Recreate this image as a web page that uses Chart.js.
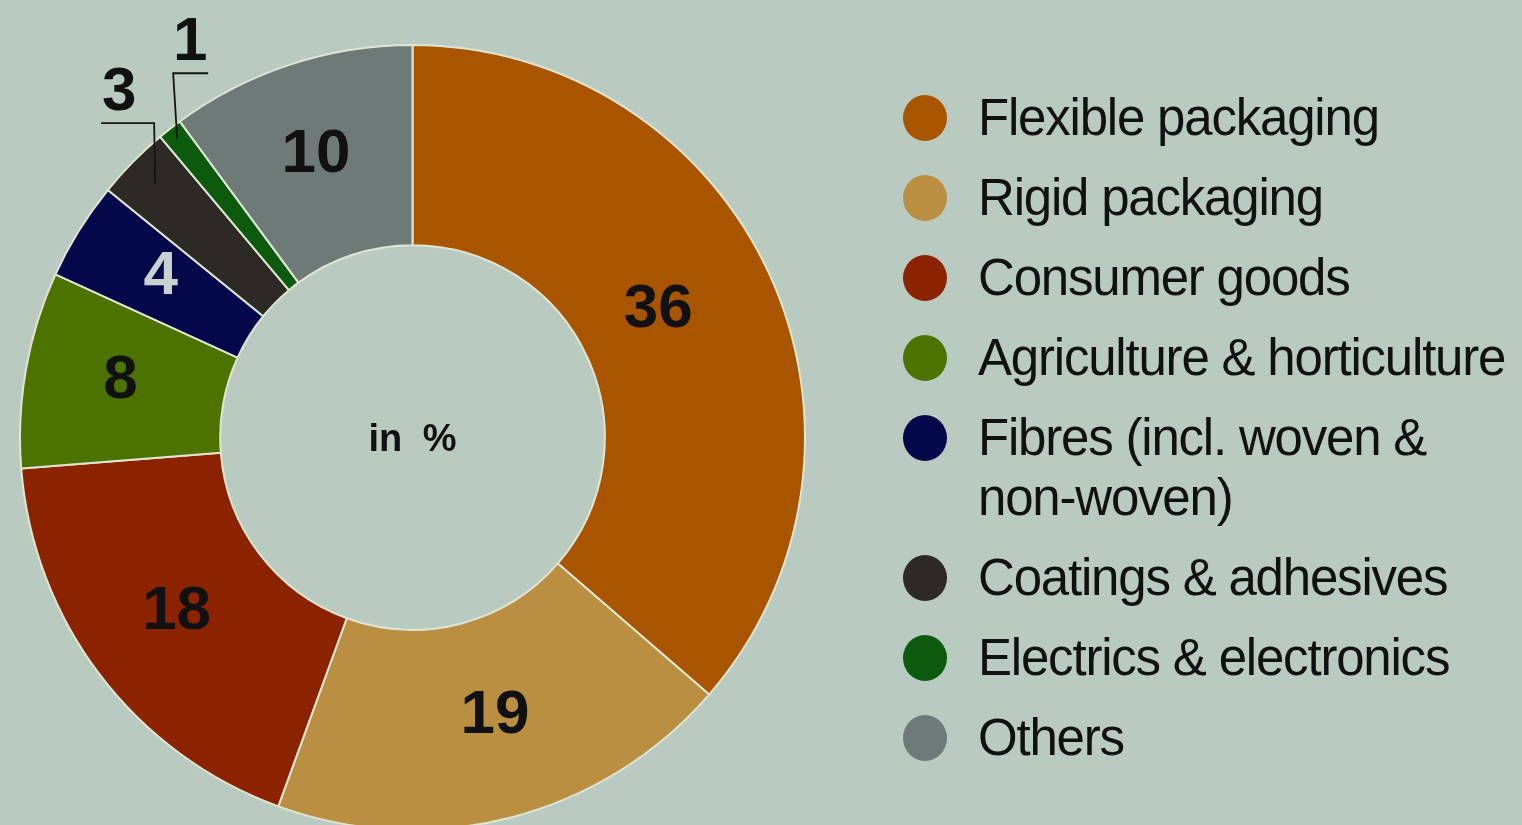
<!DOCTYPE html>
<html>
<head>
<meta charset="utf-8">
<title>Plastics demand by segment</title>
<script src="https://cdn.jsdelivr.net/npm/chart.js@4/dist/chart.umd.min.js"></script>
<style>
    html, body {
        margin: 0;
        padding: 0;
        width: 1522px;
        height: 825px;
        overflow: hidden;
        background: #b9cbc0;
        font-family: "Liberation Sans", Arial, sans-serif;
    }
    #chart-box {
        position: absolute;
        left: 19px;
        top: 0;
        width: 787px;
        height: 831px;
    }
    #legend {
        position: absolute;
        left: 903px;
        top: 88px;
        margin: 0;
        padding: 0;
        list-style: none;
    }
    #legend li {
        position: relative;
        padding-left: 75px;
        font-size: 51px;
        letter-spacing: -1.2px;
        line-height: 60px;
        margin-bottom: 20px;
        color: #111;
        white-space: nowrap;
    }
    #legend .dot {
        position: absolute;
        left: 0;
        top: 7px;
        width: 44px;
        height: 46px;
        border-radius: 50%;
    }
</style>
</head>
<body>
<div id="chart-box"><canvas id="donut-chart" width="787" height="831"></canvas></div>
<ul id="legend"></ul>

<script>
// data
var segments = [
    'Flexible packaging',
    'Rigid packaging',
    'Consumer goods',
    'Agriculture & horticulture',
    ['Fibres (incl. woven &', 'non-woven)'],
    'Coatings & adhesives',
    'Electrics & electronics',
    'Others'
];
var shares = [36, 19, 18, 8, 4, 3, 1, 10];
var centreText = 'in %';

// colours
var sliceColours = ['#a95500', '#bb8f42', '#8b2300', '#4c7200', '#03084a', '#2d2925', '#0b5a0d', '#6e7a78'];
var numberColours = ['#111', '#111', '#111', '#111', '#c9d2d1', '#111', '#111', '#111'];

// numbers inside the slices, small ones get a leader line
var sliceLabels = {
    id: 'sliceLabels',
    afterDatasetsDraw(chart, args, opts) {
        const ctx = chart.ctx;
        const arcs = chart.getDatasetMeta(0).data;
        const size = 62;
        const lift = size * 0.2;
        let cx = 0, cy = 0;
        ctx.save();
        ctx.textAlign = 'center';
        ctx.textBaseline = 'alphabetic';
        ctx.font = 'bold ' + size + 'px "Liberation Sans", Arial, sans-serif';
        arcs.forEach((arc, i) => {
            const p = arc.getProps(['x', 'y', 'startAngle', 'endAngle', 'innerRadius', 'outerRadius'], true);
            cx = p.x; cy = p.y;
            const mid = (p.startAngle + p.endAngle) / 2;
            const text = String(shares[i]);
            const callout = opts.callouts[i];
            const nudge = opts.nudge[i] || [0, 0];
            ctx.fillStyle = numberColours[i];
            if (callout) {
                const r = p.outerRadius * callout.r;
                const px = p.x + Math.cos(mid) * r;
                const py = p.y + Math.sin(mid) * r;
                const kx = px + callout.kneeDx;
                const ky = py - callout.rise;
                ctx.beginPath();
                ctx.moveTo(px, py);
                ctx.lineTo(kx, ky);
                ctx.lineTo(kx + callout.arm, ky);
                ctx.strokeStyle = '#151515';
                ctx.lineWidth = 1.8;
                ctx.stroke();
                ctx.fillText(text, kx + callout.textDx, ky - 35 + size * 0.358);
            } else {
                const r = p.innerRadius + (p.outerRadius - p.innerRadius) * 0.52;
                ctx.fillText(text, p.x + Math.cos(mid) * r + nudge[0], p.y + Math.sin(mid) * r + lift + nudge[1]);
            }
        });
        ctx.fillStyle = '#111';
        ctx.font = 'bold 38px "Liberation Sans", Arial, sans-serif';
        ctx.wordSpacing = '10px';
        ctx.fillText(opts.centreText, cx, cy + 38 * 0.358);
        ctx.restore();
    }
};

var chart = new Chart(
    document.getElementById('donut-chart'),
    {
        type: 'doughnut',
        data: {
            labels: segments,
            datasets: [
                {
                    data: shares,
                    backgroundColor: sliceColours,
                    borderColor: '#dfe5d3',
                    borderWidth: 2
                }]
        },
        options: {
            responsive: false,
            animation: false,
            cutout: '49%',
            layout: { padding: { top: 44 } },
            events: [],
            plugins: {
                legend: { display: false },
                tooltip: { enabled: false },
                sliceLabels: {
                    centreText: centreText,
                    nudge: { 0: [-24, 0], 1: [8, -4], 7: [-4, 4] },
                    callouts: {
                        5: { r: 0.92, kneeDx: -1, rise: 61, arm: -53, textDx: -35 },
                        6: { r: 0.97, kneeDx: -4, rise: 65, arm: 35, textDx: 17 }
                    }
                }
            }
        },
        plugins: [sliceLabels]
    }
);

// legend built from the same arrays
var legend = document.getElementById('legend');
segments.forEach((name, i) => {
    let li = document.createElement('li');
    let dot = document.createElement('span');
    dot.className = 'dot';
    dot.style.background = sliceColours[i];
    li.appendChild(dot);
    let lines = Array.isArray(name) ? name : [name];
    lines.forEach((line, j) => {
        if (j > 0) li.appendChild(document.createElement('br'));
        li.appendChild(document.createTextNode(line));
    });
    legend.appendChild(li);
});
</script>
</body>
</html>
